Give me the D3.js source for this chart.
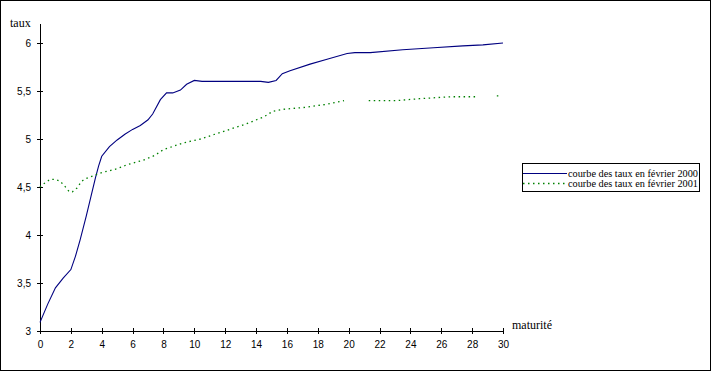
<!DOCTYPE html>
<html>
<head>
<meta charset="utf-8">
<script src="https://cdn.jsdelivr.net/npm/d3@7"></script>
<style>
  body { margin: 0; background: #fff; }
  svg { display: block; }
</style>
</head>
<body>
<script>
const width = 712;
const height = 372;

// courbe des taux février 2000
const maturities2000 = [0, 0.5, 1, 1.5, 2, 2.3, 2.6, 3, 3.3, 3.6, 3.8, 4, 4.5, 5, 5.5, 6, 6.5, 7, 7.3, 7.8, 8.2, 8.6, 9.1, 9.5, 10, 10.5, 12, 14.3, 14.8, 15.3, 15.7, 16.2, 17.5, 18.6, 19.9, 20.4, 21.4, 23.5, 25.5, 27.4, 28.7, 30];
const taux2000 = [3.09, 3.28, 3.45, 3.55, 3.64, 3.78, 3.95, 4.2, 4.4, 4.6, 4.72, 4.82, 4.92, 4.99, 5.05, 5.1, 5.14, 5.2, 5.26, 5.41, 5.48, 5.48, 5.51, 5.57, 5.61, 5.6, 5.6, 5.6, 5.59, 5.61, 5.68, 5.71, 5.78, 5.83, 5.89, 5.9, 5.9, 5.93, 5.95, 5.97, 5.98, 6.0];

// courbe des taux février 2001 (null = valeur manquante)
const maturities2001 = [0, 0.1, 0.4, 0.65, 1, 1.3, 1.6, 1.9, 2.1, 2.4, 2.7, 3, 3.5, 4, 5, 5.6, 6.7, 7.45, 8, 9.3, 10.4, 12.1, 13.4, 14.5, 15.1, 15.8, 17.2, 18.5, 19.7, 20.5, 21.3, 23.1, 24.6, 26.6, 28.4, 29, 29.6, 29.9];
const taux2001 = [4.5, 4.52, 4.55, 4.58, 4.58, 4.56, 4.51, 4.45, 4.45, 4.49, 4.56, 4.59, 4.62, 4.65, 4.69, 4.73, 4.78, 4.83, 4.89, 4.96, 5.0, 5.09, 5.16, 5.23, 5.29, 5.31, 5.33, 5.36, 5.4, null, 5.4, 5.4, 5.42, 5.44, 5.44, null, 5.45, 5.45];

const xTicks = d3.range(0, 31, 2);
const yTicks = [3, 3.5, 4, 4.5, 5, 5.5, 6];

const seriesNames = ["courbe des taux en février 2000", "courbe des taux en février 2001"];

const series = [
  { name: seriesNames[0], color: "#000080", dash: null,
    points: maturities2000.map((m, i) => ({ m, t: taux2000[i] })) },
  { name: seriesNames[1], color: "#008000", dash: "1.5,3.5",
    points: maturities2001.map((m, i) => ({ m, t: taux2001[i] })) }
];

const x = d3.scaleLinear().domain([0, 30]).range([40, 503]);
const y = d3.scaleLinear().domain([3, 6]).range([331, 43]);

const svg = d3.select("body")
  .append("svg")
  .attr("width", width)
  .attr("height", height);

svg.append("rect")
  .attr("x", 0.5).attr("y", 0.5)
  .attr("width", width - 2).attr("height", height - 2)
  .attr("fill", "#fff")
  .attr("stroke", "#000");

const fmt = d => String(d).replace(".", ",");

// axe des y
const yAxis = svg.append("g")
  .attr("transform", `translate(${x(0)},0)`)
  .attr("shape-rendering", "crispEdges")
  .call(d3.axisLeft(y).tickValues(yTicks).tickFormat(fmt).tickSize(3).tickPadding(6));
yAxis.select(".domain").remove();
yAxis.selectAll(".tick line").attr("x1", -3).attr("x2", 3);
yAxis.selectAll(".tick text")
  .attr("font-family", "'Liberation Sans', Arial, sans-serif")
  .attr("font-size", 10)
  .attr("fill", "#000");
yAxis.append("line")
  .attr("x1", 0).attr("x2", 0)
  .attr("y1", 24).attr("y2", y(3))
  .attr("stroke", "#000");

// axe des x
const xAxis = svg.append("g")
  .attr("transform", `translate(0,${y(3)})`)
  .attr("shape-rendering", "crispEdges")
  .call(d3.axisBottom(x).tickValues(xTicks).tickSize(3).tickPadding(7));
xAxis.select(".domain").remove();
xAxis.selectAll(".tick line").attr("y1", -3).attr("y2", 3);
xAxis.selectAll(".tick text")
  .attr("font-family", "'Liberation Sans', Arial, sans-serif")
  .attr("font-size", 10)
  .attr("fill", "#000");
xAxis.append("line")
  .attr("x1", x(0)).attr("x2", x(30))
  .attr("y1", 0).attr("y2", 0)
  .attr("stroke", "#000");

svg.append("text")
  .attr("x", 10).attr("y", 27)
  .attr("font-family", "'Liberation Serif', 'Times New Roman', serif")
  .attr("font-size", 12)
  .text("taux");

svg.append("text")
  .attr("x", 512).attr("y", 329)
  .attr("font-family", "'Liberation Serif', 'Times New Roman', serif")
  .attr("font-size", 12)
  .text("maturité");

const line = d3.line()
  .defined(d => d.t !== null)
  .x(d => x(d.m))
  .y(d => y(d.t));

svg.append("g")
  .selectAll("path")
  .data(series)
  .join("path")
  .attr("fill", "none")
  .attr("stroke", d => d.color)
  .attr("stroke-width", d => d.dash ? 1.3 : 1.1)
  .attr("stroke-dasharray", d => d.dash)
  .attr("d", d => line(d.points));

// légende
const legend = svg.append("g");
legend.append("rect")
  .attr("x", 522.5).attr("y", 163.5)
  .attr("width", 177).attr("height", 28)
  .attr("fill", "#fff")
  .attr("stroke", "#000")
  .attr("shape-rendering", "crispEdges");

const item = legend.selectAll("g.item")
  .data(series)
  .join("g")
  .attr("class", "item")
  .attr("transform", (d, i) => `translate(0,${173.5 + i * 10})`);

item.append("line")
  .attr("x1", 523).attr("x2", 567)
  .attr("stroke", d => d.color)
  .attr("stroke-width", d => d.dash ? 1.3 : 1.1)
  .attr("stroke-dasharray", d => d.dash);

item.append("text")
  .attr("x", 568).attr("y", 3)
  .attr("font-family", "'Liberation Serif', 'Times New Roman', serif")
  .attr("font-size", 10)
  .attr("textLength", 130)
  .attr("lengthAdjust", "spacingAndGlyphs")
  .text(d => d.name);
</script>
</body>
</html>
